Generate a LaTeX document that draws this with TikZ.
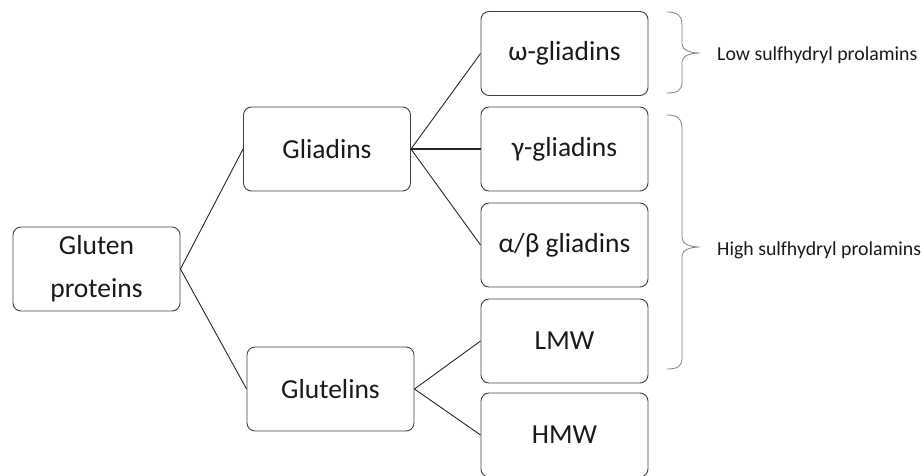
\documentclass[tikz,border=0pt]{standalone}
\usepackage{fontspec}
\setmainfont{Carlito}[Ligatures=NoCommon]
\begin{document}
\begin{tikzpicture}[x=1pt,y=-1pt,
  box/.style={draw=black!75, line width=0.9pt, rounded corners=8pt,
    minimum width=167pt, minimum height=84pt, inner sep=0pt,
    font=\fontsize{27.5}{43}\selectfont, text=black!90, align=center},
  link/.style={draw=black!85, line width=0.9pt},
  brace/.style={draw=black!50, line width=0.8pt},
  lbl/.style={anchor=west, inner sep=0pt, font=\fontsize{19.8}{24}\selectfont, text=black!90}]
\useasboundingbox (0,0) rectangle (922,476);
\node[box] (glu) at (96.5,269) {Gluten\\proteins};
\node[box] (gli) at (327,149) {Gliadins};
\node[box] (glt) at (330.5,389) {Glutelins};
\node[box] (ome) at (564.5,53.5) {ω-gliadins};
\node[box] (gam) at (564.5,149) {γ-gliadins};
\node[box] (alb) at (564.5,245) {α/β gliadins};
\node[box] (lmw) at (564.5,341) {LMW};
\node[box] (hmw) at (564.5,435) {HMW};
\draw[link] (glu.east) -- (gli.west);
\draw[link] (glu.east) -- (glt.west);
\draw[link] (gli.east) -- (ome.west);
\draw[link, line width=1.6pt] (gli.east) -- (gam.west);
\draw[link] (gli.east) -- (alb.west);
\draw[link] (glt.east) -- (lmw.west);
\draw[link] (glt.east) -- (hmw.west);
\coordinate (b1) at (700,53);
\coordinate (b2) at (700,247);
\draw[brace] (667,12) .. controls (678,12) and (682,16) .. (682,26) -- (682,44)
  .. controls (682,50) and (690,53) .. (b1)
  .. controls (690,53) and (682,56) .. (682,62) -- (682,82)
  .. controls (682,90) and (678,93) .. (667,93);
\draw[brace] (667,115) .. controls (678,115) and (682,119) .. (682,129) -- (682,238)
  .. controls (682,244) and (690,247) .. (b2)
  .. controls (690,247) and (682,250) .. (682,256) -- (682,358)
  .. controls (682,366) and (678,369) .. (667,369);
\node[lbl] (low) at (717,55) {Low sulfhydryl prolamins};
\node[lbl] (high) at (717,250) {High sulfhydryl prolamins};
\end{tikzpicture}
\end{document}
